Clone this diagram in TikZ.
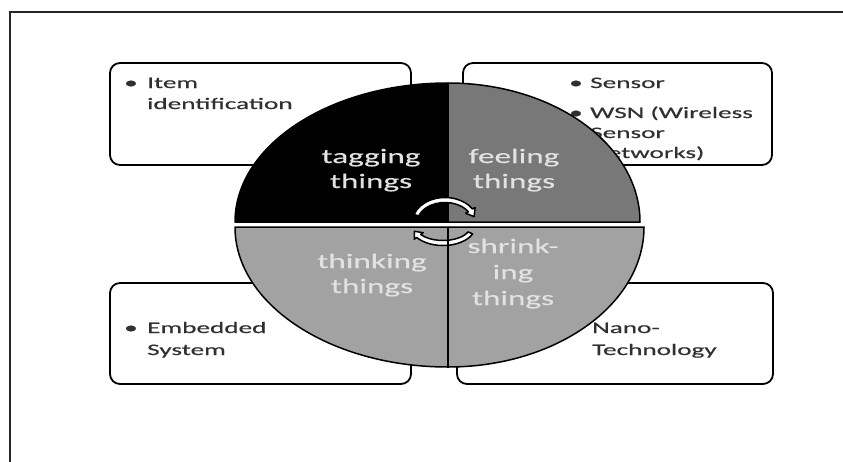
\documentclass[tikz,border=0pt]{standalone}
\usepackage{fontspec}
\setmainfont{Carlito}
\newfontfamily\boxfont[FakeStretch=1.7,FakeBold=0.4]{Carlito}
\newfontfamily\circfont[FakeStretch=1.62,FakeBold=0.3]{Carlito}
\usetikzlibrary{calc}
\definecolor{boxtext}{HTML}{303030}
\definecolor{circtext}{HTML}{E2E2E2}
\definecolor{quadTL}{HTML}{000000}
\definecolor{quadTR}{HTML}{787878}
\definecolor{quadB}{HTML}{A2A2A2}
\tikzset{
  frameline/.style={line width=2pt, draw=black!85},
  infobox/.style={draw=black, line width=1.8pt, rounded corners=10pt, fill=white, inner sep=0pt},
  boxline/.style={anchor=base west, inner sep=0pt, text=boxtext, font=\boxfont\fontsize{16}{19}\selectfont},
  bulletmark/.style={anchor=base west, inner sep=0pt, text=boxtext, font=\boxfont\fontsize{16}{19}\selectfont},
  circline/.style={anchor=base, inner sep=0pt, text=circtext, font=\circfont\fontsize{20.5}{24}\selectfont},
  quad/.style={draw=black, line width=1.5pt, line join=round},
  arrowband/.style={draw=black, fill=white, line width=1.5pt, line join=round}
}
\begin{document}
\begin{tikzpicture}[x=1pt,y=-1pt]
\useasboundingbox (0,0) rectangle (843,461);
\clip (0,0) rectangle (843,461);
\fill[white] (0,0) rectangle (843,461);
% outer frame
\coordinate (f1) at (10,480);
\coordinate (f2) at (10,12);
\coordinate (f3) at (860,12);
\draw[frameline] (f1) -- (f2) -- (f3);

% boxes
\node[infobox, minimum width=301pt, minimum height=102pt] (tl) at (260.5,114) {};
\node[infobox, minimum width=309pt, minimum height=102pt] (tr) at (617.5,114) {};
\node[infobox, minimum width=301pt, minimum height=101pt] (bl) at (260.5,333.5) {};
\node[infobox, minimum width=316pt, minimum height=101pt] (br) at (615,333.5) {};

% box texts
\node[bulletmark] (tlb) at (124,88) {•};
\node[boxline] (tl1) at (147,88) {Item};
\node[boxline] (tl2) at (147,109) {identification};

\node[bulletmark] (trb1) at (569,88) {•};
\node[boxline] (tr1) at (590,88) {Sensor};
\node[bulletmark] (trb2) at (569,118) {•};
\node[boxline] (tr2) at (590,118) {WSN (Wireless};
\node[boxline] (tr3) at (590,138) {Sensor};
\node[boxline] (tr4) at (590,158) {Networks)};

\node[bulletmark] (blb) at (124,333) {•};
\node[boxline] (bl1) at (147,333) {Embedded};
\node[boxline] (bl2) at (147,355) {System};

\node[bulletmark] (brb) at (569,333) {•};
\node[boxline] (br1) at (592,333) {Nano-};
\node[boxline] (br2) at (592,355) {Technology};

% quadrants
\coordinate (ct) at (448,222);
\coordinate (cb) at (448,227);
\filldraw[quad, fill=quadTL] (ct) -- (235,222) arc[start angle=180, end angle=270, x radius=213, y radius=139] -- cycle;
\filldraw[quad, fill=quadTR] (ct) -- (448,83) arc[start angle=270, end angle=360, x radius=192, y radius=139] -- cycle;
\filldraw[quad, fill=quadB] (cb) -- (235,227) arc[start angle=180, end angle=90, x radius=213, y radius=140] -- cycle;
\filldraw[quad, fill=quadB] (cb) -- (448,367) arc[start angle=90, end angle=0, x radius=196, y radius=140] -- cycle;

% cycle arrows
\coordinate (ca) at (445,222);
\filldraw[arrowband]
  ([shift={(ca)}]198:32.5 and 24.5) arc[start angle=198, end angle=328, x radius=32.5, y radius=24.5]
  -- ([shift={(ca)}]328:35.5 and 27.5) -- ([shift={(ca)}]346:30 and 22) -- ([shift={(ca)}]328:24.5 and 16.5)
  -- ([shift={(ca)}]328:27.5 and 19.5) arc[start angle=328, end angle=198, x radius=27.5, y radius=19.5] -- cycle;
\coordinate (cc) at (443,226);
\filldraw[arrowband]
  ([shift={(cc)}]24:32.5 and 19.5) arc[start angle=24, end angle=144, x radius=32.5, y radius=19.5]
  -- ([shift={(cc)}]144:35.5 and 22.5) -- ([shift={(cc)}]162:30 and 17) -- ([shift={(cc)}]144:24.5 and 11.5)
  -- ([shift={(cc)}]144:27.5 and 14.5) arc[start angle=144, end angle=24, x radius=27.5, y radius=14.5] -- cycle;
\coordinate (vl) at (448,367);
\draw[black, line width=1.5pt] (cb) -- (vl);

% circle texts
\node[circline] (tg1) at (371,163) {tagging};
\node[circline] (tg2) at (371,188) {things};
\node[circline] (fe1) at (514,163) {feeling};
\node[circline] (fe2) at (514,188) {things};
\node[circline] (th1) at (372,268) {thinking};
\node[circline] (th2) at (372,293) {things};
\node[circline] (sh1) at (513,253) {shrink-};
\node[circline] (sh2) at (513,279) {ing};
\node[circline] (sh3) at (513,305) {things};
\end{tikzpicture}
\end{document}
